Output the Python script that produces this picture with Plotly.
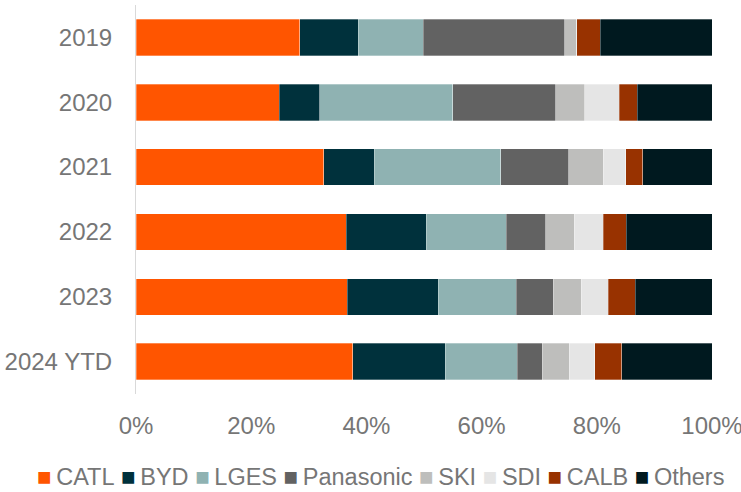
import plotly.graph_objects as go

years = ["2019", "2020", "2021", "2022", "2023", "2024 YTD"]
companies = ["CATL", "BYD", "LGES", "Panasonic", "SKI", "SDI", "CALB", "Others"]
colors = ["#FF5500", "#00313C", "#8FB2B2", "#626262", "#BEBEBC", "#E5E5E5", "#983200", "#00191F"]

# market share (%) per company, by year
catl      = [28.4, 24.9, 32.6, 36.5, 36.7, 37.6]
byd       = [10.2,  7.0,  8.8, 13.9, 15.8, 16.1]
lges      = [11.3, 23.1, 21.9, 13.9, 13.5, 12.5]
panasonic = [24.5, 17.9, 11.8,  6.8,  6.4,  4.3]
ski       = [ 2.1,  5.0,  6.0,  5.0,  4.9,  4.7]
sdi       = [ 0.0,  6.0,  3.9,  5.0,  4.7,  4.4]
calb      = [ 4.1,  3.1,  3.0,  4.0,  4.7,  4.7]
others    = [19.4, 13.0, 12.0, 14.9, 13.4, 15.7]

series = [catl, byd, lges, panasonic, ski, sdi, calb, others]

FONT = "Liberation Sans, Arial, sans-serif"
GREY = "#767676"
FS = 24

fig = go.Figure()
for name, vals, col in zip(companies, series, colors):
    fig.add_trace(go.Bar(
        y=years, x=[v / 100 for v in vals], name=name, orientation="h",
        marker=dict(color=col, line=dict(color="rgba(255,255,255,0.6)", width=0.5)),
        showlegend=False,
    ))

nb = "\u00a0"
legend_text = nb.join(
    f"<span style='color:{c};font-size:24px'>■</span>\u2009{n}" for n, c in zip(companies, colors)
)

fig.add_annotation(
    text=legend_text, xref="paper", yref="paper", x=-0.175, y=-0.213,
    xanchor="left", yanchor="middle", showarrow=False,
    font=dict(family=FONT, size=23.5, color=GREY),
)

fig.update_layout(
    width=741, height=492,
    margin=dict(l=136, r=29, t=5, b=98, autoexpand=False),
    barmode="stack", bargap=0.437,
    plot_bgcolor="white", paper_bgcolor="white",
    font=dict(family=FONT, size=FS, color=GREY),
    xaxis=dict(range=[0, 1], dtick=0.2, tickformat=".0%", showgrid=False,
               zeroline=False, showline=False, ticklabelstandoff=15,
               automargin=False, ticklabeloverflow="allow",
               tickfont=dict(family=FONT, size=FS, color=GREY)),
    yaxis=dict(autorange="reversed", showline=True, linecolor="#D9D9D9", linewidth=1,
               showgrid=False, ticklabelstandoff=18, automargin=False,
               tickfont=dict(family=FONT, size=FS, color=GREY)),
)

fig.write_html("out.html", config={"displayModeBar": False},
               post_script="document.body.style.margin='0';")
